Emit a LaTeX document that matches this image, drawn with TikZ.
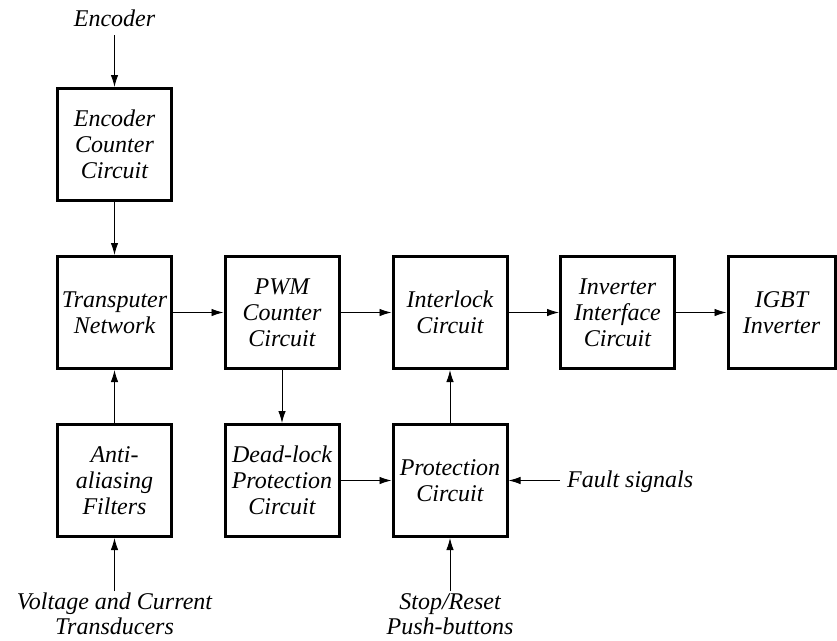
\documentclass[tikz,border=0pt]{standalone}
\usepackage{fontspec}
\setmainfont{Liberation Serif}
\usetikzlibrary{arrows.meta}
\begin{document}
\begin{tikzpicture}[x=1pt,y=-1pt,
  blk/.style={draw,line width=3pt,minimum width=114pt,minimum height=112pt,inner sep=0pt,align=center,
    font=\fontsize{24}{26}\selectfont\itshape},
  lbl/.style={align=center,inner sep=0pt,font=\fontsize{24}{25}\selectfont\itshape},
  arr/.style={line width=0.9pt,-{Latex[length=12pt,width=7.5pt]}}]
\useasboundingbox (0,0) rectangle (837,640);
\node[blk] (enc) at (114.5,144.5) {Encoder\\Counter\\Circuit};
\node[blk] (tn) at (114.5,312.5) {Transputer\\Network};
\node[blk] (pwm) at (282,312.5) {PWM\\Counter\\Circuit};
\node[blk] (il) at (450,312.5) {Interlock\\Circuit};
\node[blk] (ii) at (617.5,312.5) {Inverter\\Interface\\Circuit};
\node[blk,minimum width=107pt] (igbt) at (781.5,312.5) {IGBT\\Inverter};
\node[blk] (aa) at (114.5,480.5) {Anti-\\aliasing\\Filters};
\node[blk] (dl) at (282,480.5) {Dead-lock\\Protection\\Circuit};
\node[blk] (pc) at (450,480.5) {Protection\\Circuit};
\node[lbl,anchor=base] (tenc) at (114.5,26) {Encoder};
\node[lbl,anchor=base] (tvc) at (114.5,634) {Voltage and Current\\Transducers};
\node[lbl,anchor=base] (tsr) at (450,634) {Stop/Reset\\Push-buttons};
\node[lbl,anchor=base west] (tfs) at (567,487) {Fault signals};
\coordinate (c1) at (114.5,35);
\coordinate (c2) at (114.5,591);
\coordinate (c3) at (450,591);
\coordinate (c4) at (560,480.5);
\draw[arr] (c1) -- (enc.north);
\draw[arr] (enc.south) -- (tn.north);
\draw[arr] (aa.north) -- (tn.south);
\draw[arr] (c2) -- (aa.south);
\draw[arr] (tn.east) -- (pwm.west);
\draw[arr] (pwm.east) -- (il.west);
\draw[arr] (il.east) -- (ii.west);
\draw[arr] (ii.east) -- (igbt.west);
\draw[arr] (pwm.south) -- (dl.north);
\draw[arr] (dl.east) -- (pc.west);
\draw[arr] (pc.north) -- (il.south);
\draw[arr] (c3) -- (pc.south);
\draw[arr] (c4) -- (pc.east);
\end{tikzpicture}
\end{document}
